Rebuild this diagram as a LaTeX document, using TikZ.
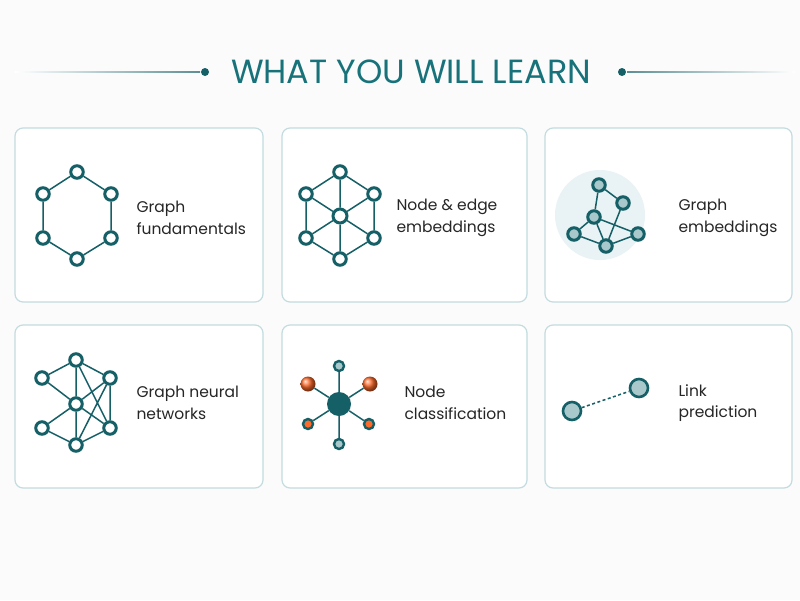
\documentclass[tikz,border=0pt]{standalone}
\usepackage{fontspec}
\setmainfont{Poppins}
\begin{document}
\definecolor{teal1}{HTML}{155F66}
\definecolor{titlec}{HTML}{18727A}
\definecolor{cardb}{HTML}{C3DCDF}
\definecolor{lightn}{HTML}{A9C8CB}
\definecolor{bgc}{HTML}{E9F2F4}
\definecolor{orng}{HTML}{FF6A2A}
\begin{tikzpicture}[x=1pt,y=-1pt,
  card/.style={draw=cardb,line width=1.2pt,rounded corners=8pt,fill=white},
  nd/.style={circle,draw=teal1,line width=3pt,fill=white,inner sep=0pt,minimum size=12.5pt},
  ln/.style={nd,fill=lightn},
  ed/.style={draw=teal1,line width=1.5pt},
  lbl/.style={anchor=west,align=left,font=\fontsize{15.5}{21.5}\selectfont,text=black!85}]
\useasboundingbox (0,0) rectangle (800,600);
\fill[white!97!gray] (0,0) rectangle (800,600);
% title
\node (title) at (411,72) {\fontsize{33.5}{38}\selectfont\color{titlec}WHAT YOU WILL LEARN};
\node[circle,fill=teal1,inner sep=0pt,minimum size=8pt] (dl) at (205,72) {};
\node[circle,fill=teal1,inner sep=0pt,minimum size=8pt] (dr) at (622,72) {};
\shade[left color=white,right color=teal1!70] (15,71.3) rectangle (200,72.7);
\shade[left color=teal1!70,right color=white] (627,71.3) rectangle (795,72.7);
% cards
\draw[card] (15,128) rectangle (263,302);
\draw[card] (282,128) rectangle (527,302);
\draw[card] (545,128) rectangle (792,302);
\draw[card] (15,325) rectangle (263,488);
\draw[card] (282,325) rectangle (527,488);
\draw[card] (545,325) rectangle (792,488);
% icon 1
\node[nd] (a1) at (77,172) {}; \node[nd] (a2) at (43,194) {}; \node[nd] (a3) at (111,194) {};
\node[nd] (a4) at (43,238) {}; \node[nd] (a5) at (111,238) {}; \node[nd] (a6) at (77,259) {};
\path[ed] (a1)--(a2) (a1)--(a3) (a2)--(a4) (a3)--(a5) (a4)--(a6) (a5)--(a6);
\node[lbl] (t1) at (133,218) {Graph\\fundamentals};
% icon 2
\node[nd,minimum size=14pt] (b0) at (340,216) {};
\node[nd] (b1) at (340,172) {}; \node[nd] (b2) at (306,194) {}; \node[nd] (b3) at (374,194) {};
\node[nd] (b4) at (306,238) {}; \node[nd] (b5) at (374,238) {}; \node[nd] (b6) at (340,259) {};
\path[ed] (b1)--(b2) (b1)--(b3) (b2)--(b4) (b3)--(b5) (b4)--(b6) (b5)--(b6)
 (b0)--(b1) (b0)--(b2) (b0)--(b3) (b0)--(b4) (b0)--(b5) (b0)--(b6);
\node[lbl] (t2) at (393,218) {Node \& edge\\embeddings};
% icon 3
\fill[bgc] (600,215) circle (45);
\node[ln] (c1) at (599,185) {}; \node[ln] (c2) at (623,203) {}; \node[ln] (c3) at (594,217) {};
\node[ln] (c4) at (574,234) {}; \node[ln] (c5) at (606,246) {}; \node[ln] (c6) at (638,234) {};
\path[ed] (c1)--(c3) (c1)--(c2) (c3)--(c4) (c3)--(c5) (c4)--(c5) (c5)--(c6) (c3)--(c6) (c2)--(c5);
\node[lbl] (t3) at (675,218) {Graph\\embeddings};
% icon 4
\node[nd] (d1) at (76,360) {}; \node[nd] (d2) at (42,378) {}; \node[nd] (d3) at (110,378) {};
\node[nd] (d4) at (76,404) {}; \node[nd] (d5) at (42,428) {}; \node[nd] (d6) at (110,428) {};
\node[nd] (d7) at (76,445) {};
\path[ed] (d1)--(d2) (d1)--(d3) (d1)--(d4) (d4)--(d7) (d1)--(d6) (d3)--(d6) (d3)--(d7) (d3)--(d4)
 (d2)--(d4) (d5)--(d4) (d5)--(d7) (d7)--(d6) (d4)--(d6);
\node[lbl] (t4) at (133,403) {Graph neural\\networks};
% icon 5
\node[circle,fill=teal1,inner sep=0pt,minimum size=24pt] (e0) at (339,404) {};
\node[ln,minimum size=10pt,line width=2.4pt] (e1) at (339,366) {};
\node[ln,minimum size=10pt,line width=2.4pt] (e2) at (339,444) {};
\node[circle,shading=ball,ball color=orng,inner sep=0pt,minimum size=15pt] (e3) at (308,384) {};
\node[circle,shading=ball,ball color=orng,inner sep=0pt,minimum size=15pt] (e4) at (370,384) {};
\node[nd,fill=orng,minimum size=10pt,line width=2.4pt] (e5) at (308,424) {};
\node[nd,fill=orng,minimum size=10pt,line width=2.4pt] (e6) at (369,424) {};
\path[ed] (e0)--(e1) (e0)--(e2) (e0)--(e3) (e0)--(e4) (e0)--(e5) (e0)--(e6);
\node[lbl] (t5) at (401,403) {Node\\classification};
% icon 6
\node[ln,minimum size=18pt,line width=2.6pt] (f1) at (572,411) {};
\node[ln,minimum size=18pt,line width=2.6pt] (f2) at (639,388) {};
\path[ed,dash pattern=on 3pt off 2.5pt] (f1)--(f2);
\node[lbl] (t6) at (675,403) {Link\\prediction};
\end{tikzpicture}
\end{document}
